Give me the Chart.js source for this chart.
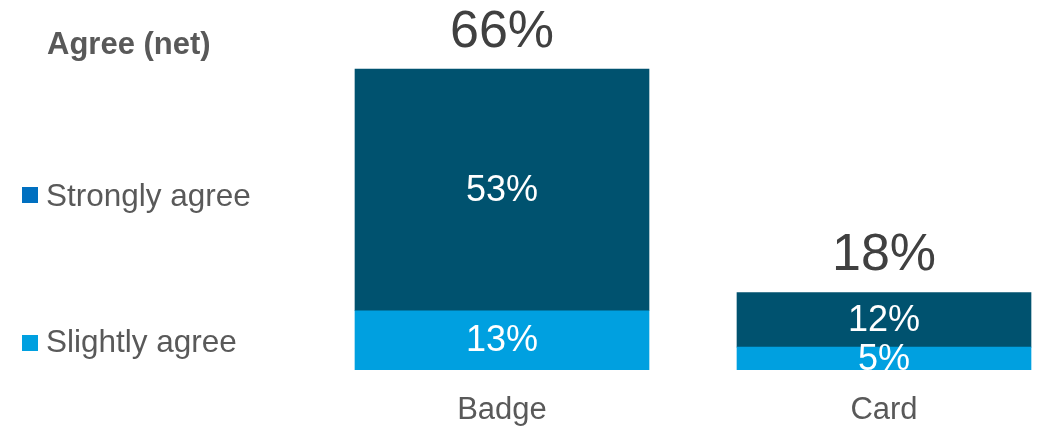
<!DOCTYPE html>
<html>
<head>
<meta charset="utf-8">
<script src="https://cdn.jsdelivr.net/npm/chart.js@4.4.1/dist/chart.umd.min.js"></script>
<style>
  html, body { margin: 0; padding: 0; background: #ffffff; overflow: hidden; }
  #wrap { position: relative; width: 1038px; height: 426px; }
  #wrap canvas { position: absolute; left: 0; top: 0; }
  .txt { position: absolute; font-family: "Liberation Sans", Arial, sans-serif; color: #595959; line-height: 1; white-space: nowrap; }
  .sq { position: absolute; width: 16px; height: 16px; }
</style>
</head>
<body>
<div id="wrap">
  <canvas id="c" width="1038" height="426"></canvas>
  <div class="txt" id="legTitle" style="left:47px; top:28px; font-size:31px; font-weight:bold;">Agree (net)</div>
  <div class="sq" style="left:22px; top:187px; background:#0070C0;"></div>
  <div class="txt" style="left:46px; top:180px; font-size:31.5px;">Strongly agree</div>
  <div class="sq" style="left:22px; top:335px; background:#00A0E0;"></div>
  <div class="txt" style="left:46px; top:326px; font-size:31.5px;">Slightly agree</div>
</div>
<script>
const categories = ['Badge', 'Card'];
const seriesNames = ['Slightly agree', 'Strongly agree'];
const slightlyAgree = [13, 5];
const stronglyAgree = [53, 12];
const netAgree = [66, 18];

const FONT = '"Liberation Sans", Arial, sans-serif';

const labelPlugin = {
  id: 'segLabels',
  afterDatasetsDraw(chart) {
    const ctx = chart.ctx;
    const area = chart.chartArea;
    ctx.save();
    ctx.beginPath();
    ctx.rect(area.left, area.top, area.right - area.left, area.bottom - area.top);
    ctx.clip();
    ctx.fillStyle = '#ffffff';
    ctx.font = '36px ' + FONT;
    ctx.textAlign = 'center';
    ctx.textBaseline = 'middle';
    chart.data.datasets.forEach((ds, di) => {
      const meta = chart.getDatasetMeta(di);
      meta.data.forEach((bar, i) => {
        const v = ds.data[i].y;
        ctx.fillText(v + '%', bar.x, (bar.y + bar.base) / 2 + 1);
      });
    });
    ctx.restore();

    ctx.save();
    ctx.fillStyle = '#404040';
    ctx.font = '52px ' + FONT;
    ctx.textAlign = 'center';
    ctx.textBaseline = 'alphabetic';
    const topMeta = chart.getDatasetMeta(chart.data.datasets.length - 1);
    topMeta.data.forEach((bar, i) => {
      ctx.fillText(netAgree[i] + '%', bar.x, bar.y - 22);
    });
    ctx.restore();
  }
};

new Chart(document.getElementById('c'), {
  type: 'bar',
  data: {
    datasets: [
      {
        label: seriesNames[0],
        data: slightlyAgree.map((v, i) => ({ x: i, y: v })),
        backgroundColor: '#00A0E0',
        barThickness: 294
      },
      {
        label: seriesNames[1],
        data: stronglyAgree.map((v, i) => ({ x: i, y: v })),
        backgroundColor: '#00526F',
        barThickness: 294
      }
    ]
  },
  options: {
    responsive: false,
    animation: false,
    layout: { padding: { left: 0, right: 0, top: 0, bottom: 0 } },
    plugins: { legend: { display: false }, tooltip: { enabled: false } },
    scales: {
      x: {
        type: 'linear',
        stacked: true,
        offset: false,
        bounds: 'data',
        min: -502 / 382,
        max: (1038 - 502) / 382,
        grid: { display: false, offset: false },
        border: { display: false },
        afterBuildTicks(scale) { scale.ticks = categories.map((c, i) => ({ value: i })); },
        afterFit(scale) { scale.height = 56; },
        ticks: {
          autoSkip: false,
          maxRotation: 0,
          padding: 14,
          color: '#595959',
          font: { family: FONT, size: 31 },
          callback: (v) => categories[v]
        }
      },
      y: {
        display: false,
        stacked: true,
        min: 0,
        max: 370 / 4.56
      }
    }
  },
  plugins: [labelPlugin]
});
</script>
</body>
</html>
